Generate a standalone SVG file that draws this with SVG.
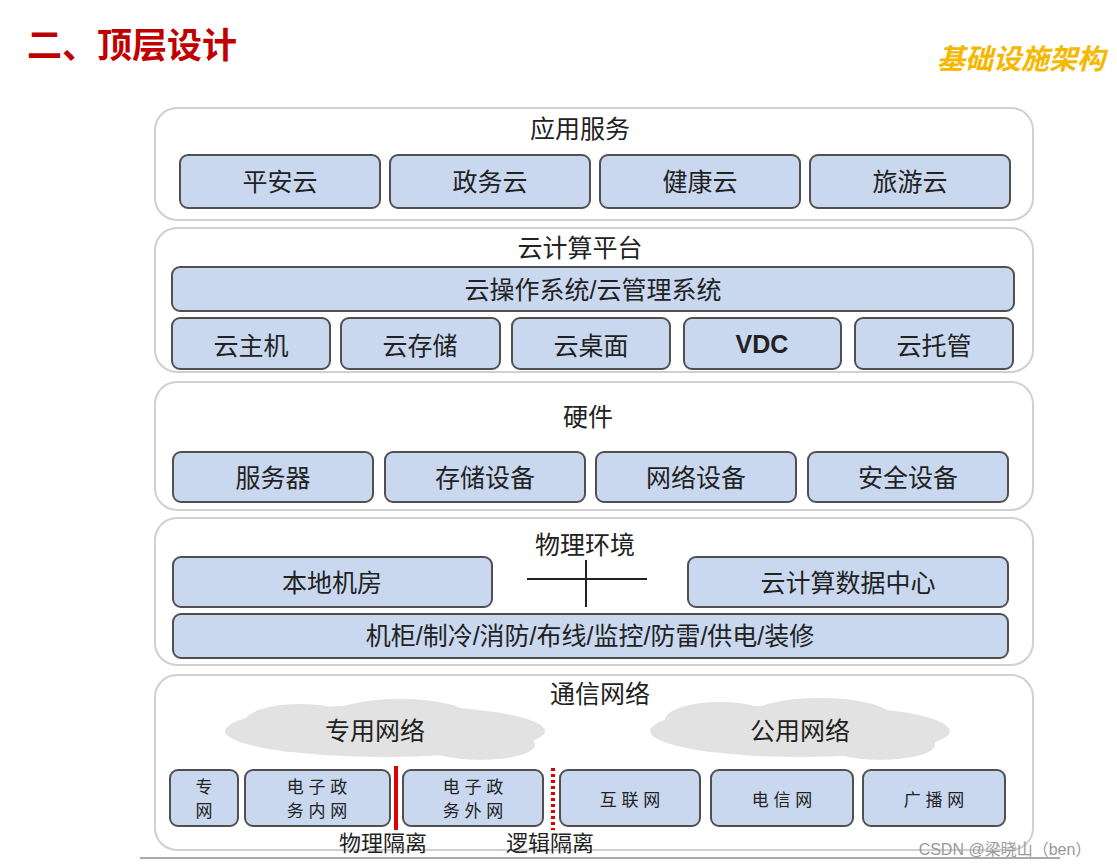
<svg xmlns="http://www.w3.org/2000/svg" width="1117" height="868" viewBox="0 0 1117 868">
<style>
text{font-family:"Liberation Sans","Noto Sans CJK SC",sans-serif;fill:#222;text-anchor:middle}
.layer{fill:#fff;stroke:#d0d0d0;stroke-width:2}
.box{fill:#c9d8ef;stroke:#505050;stroke-width:2}
.lt{font-size:25px}
.bt{font-size:25px}
.st{font-size:17px}
.cloud{fill:#e2e2e2}
</style>
<rect width="1117" height="868" fill="#fff"/>
<text x="27" y="58" style="font-size:35px;font-weight:bold;fill:#c00000;text-anchor:start">二、顶层设计</text>
<text x="1105" y="69" style="font-size:28px;font-style:italic;font-weight:bold;fill:#f5b800;text-anchor:end">基础设施架构</text>
<g id="layer-app">
<rect class="layer" x="155" y="108" width="878" height="112" rx="22"/>
<text class="lt" x="580" y="138">应用服务</text>
<rect class="box" x="180" y="155" width="200" height="53" rx="8"/><text class="bt" x="280" y="191">平安云</text>
<rect class="box" x="390" y="155" width="200" height="53" rx="8"/><text class="bt" x="490" y="191">政务云</text>
<rect class="box" x="600" y="155" width="200" height="53" rx="8"/><text class="bt" x="700" y="191">健康云</text>
<rect class="box" x="810" y="155" width="200" height="53" rx="8"/><text class="bt" x="910" y="191">旅游云</text>
</g>
<g id="layer-cloud">
<rect class="layer" x="155" y="228" width="878" height="144" rx="22"/>
<text class="lt" x="580" y="257">云计算平台</text>
<rect class="box" x="172" y="267" width="842" height="44" rx="8"/><text class="bt" x="593" y="299">云操作系统/云管理系统</text>
<rect class="box" x="172" y="318" width="158" height="51" rx="8"/><text class="bt" x="251" y="355">云主机</text>
<rect class="box" x="341" y="318" width="159" height="51" rx="8"/><text class="bt" x="420" y="355">云存储</text>
<rect class="box" x="512" y="318" width="158" height="51" rx="8"/><text class="bt" x="591" y="355">云桌面</text>
<rect class="box" x="684" y="318" width="157" height="51" rx="8"/><text class="bt" x="762" y="353" style="font-weight:bold">VDC</text>
<rect class="box" x="855" y="318" width="158" height="51" rx="8"/><text class="bt" x="934" y="355">云托管</text>
</g>
<g id="layer-hw">
<rect class="layer" x="155" y="382" width="878" height="128" rx="22"/>
<text class="lt" x="588" y="426">硬件</text>
<rect class="box" x="173" y="452" width="200" height="50" rx="8"/><text class="bt" x="273" y="487">服务器</text>
<rect class="box" x="385" y="452" width="200" height="50" rx="8"/><text class="bt" x="485" y="487">存储设备</text>
<rect class="box" x="596" y="452" width="200" height="50" rx="8"/><text class="bt" x="696" y="487">网络设备</text>
<rect class="box" x="808" y="452" width="200" height="50" rx="8"/><text class="bt" x="908" y="487">安全设备</text>
</g>
<g id="layer-env">
<rect class="layer" x="155" y="518" width="878" height="147" rx="22"/>
<text class="lt" x="585" y="554">物理环境</text>
<rect class="box" x="173" y="557" width="319" height="50" rx="8"/><text class="bt" x="332" y="592">本地机房</text>
<rect class="box" x="688" y="557" width="320" height="50" rx="8"/><text class="bt" x="848" y="592">云计算数据中心</text>
<path d="M527 579H647M586 560V607" stroke="#222" stroke-width="2" fill="none"/>
<rect class="box" x="173" y="614" width="835" height="44" rx="8"/><text class="bt" x="590" y="645">机柜/制冷/消防/布线/监控/防雷/供电/装修</text>
</g>
<g id="layer-net">
<rect class="layer" x="155" y="675" width="878" height="175" rx="22"/>
<text class="lt" x="600" y="703">通信网络</text>
<g class="cloud">
<ellipse cx="385" cy="731" rx="160" ry="26"/><ellipse cx="300" cy="722" rx="55" ry="18"/><ellipse cx="400" cy="717" rx="70" ry="18"/><ellipse cx="480" cy="745" rx="55" ry="15"/>
<ellipse cx="800" cy="731" rx="150" ry="26"/><ellipse cx="720" cy="720" rx="55" ry="18"/><ellipse cx="820" cy="716" rx="70" ry="18"/><ellipse cx="880" cy="745" rx="55" ry="15"/>
</g>
<text class="lt" x="375" y="740">专用网络</text>
<text class="lt" x="800" y="740">公用网络</text>
<rect class="box" x="170" y="770" width="68" height="56" rx="8"/><text class="st" x="204" y="793">专</text><text class="st" x="204" y="817">网</text>
<rect class="box" x="245" y="770" width="145" height="56" rx="8"/><text class="st" x="317" y="793">电 子 政</text><text class="st" x="317" y="817">务 内 网</text>
<rect class="box" x="403" y="770" width="140" height="56" rx="8"/><text class="st" x="473" y="793">电 子 政</text><text class="st" x="473" y="817">务 外 网</text>
<rect class="box" x="560" y="770" width="140" height="56" rx="8"/><text class="st" x="630" y="806">互 联 网</text>
<rect class="box" x="711" y="770" width="142" height="56" rx="8"/><text class="st" x="782" y="806">电 信 网</text>
<rect class="box" x="863" y="770" width="142" height="56" rx="8"/><text class="st" x="934" y="806">广 播 网</text>
<path d="M396 766V830" stroke="#e00000" stroke-width="4"/>
<path d="M553 768V830" stroke="#e00000" stroke-width="4" stroke-dasharray="3 3"/>
<text class="bt" x="383" y="851" style="font-size:22px">物理隔离</text>
<text class="bt" x="550" y="851" style="font-size:22px">逻辑隔离</text>
</g>
<path d="M140 858H1060" stroke="#aaa" stroke-width="2"/>
<text x="1005" y="855" style="font-size:16px;fill:#999">CSDN @梁晓山（ben）</text>
</svg>
